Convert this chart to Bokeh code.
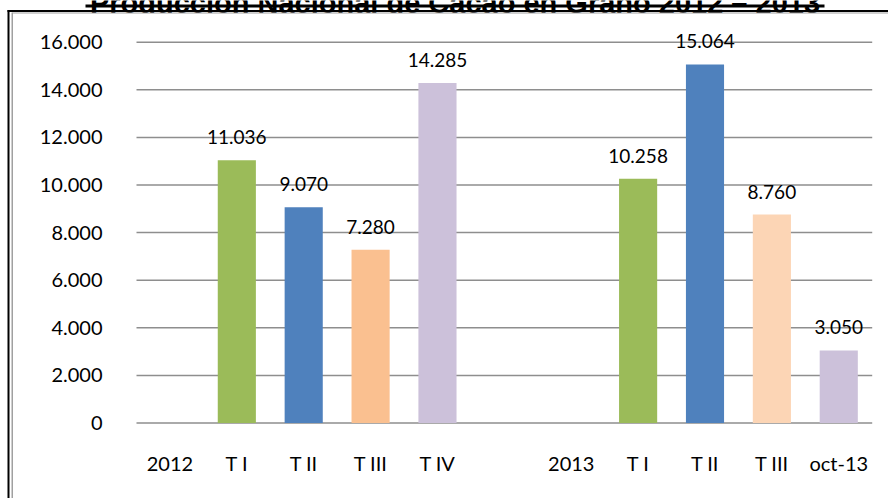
from bokeh.plotting import figure
from bokeh.models import (Range1d, ColumnDataSource, LabelSet, Label,
                          BoxAnnotation)
from bokeh.core.properties import value
from bokeh.embed import file_html
from bokeh.resources import INLINE

# ---- data ----
title_text = "Producción Nacional de Cacao en Grano 2012 – 2013"
categories = ["2012", "T I", "T II", "T III", "T IV", "",
              "2013", "T I", "T II", "T III", "oct-13"]
values = [None, 11036, 9070, 7280, 14285, None,
          None, 10258, 15064, 8760, 3050]
bar_colors = [None, "#9BBB59", "#4F81BD", "#FAC090", "#CCC1DA", None,
              None, "#9BBB59", "#4F81BD", "#FCD5B5", "#CCC1DA"]
y_ticks = [0, 2000, 4000, 6000, 8000, 10000, 12000, 14000, 16000]
y_tick_labels = ["0", "2.000", "4.000", "6.000", "8.000", "10.000",
                 "12.000", "14.000", "16.000"]

FONT = "Lato"
TITLE_FONT = "Liberation Sans"
GRID = "#8E8E8E"
W, H = 888, 498

# ---- layout geometry (pixels) ----
PLOT_L, PLOT_R = 136.0, 871.7          # plot area left/right
Y0_PX, YMAX_PX = 422.5, 41.7           # pixel rows of 0 and 16000
n = len(categories)
cat_w = (PLOT_R - PLOT_L) / n
k = (Y0_PX - YMAX_PX) / y_ticks[-1]     # px per unit
x_range = Range1d(-PLOT_L / cat_w, n + (W - PLOT_R) / cat_w)
y_range = Range1d(-(H - Y0_PX) / k, y_ticks[-1] + YMAX_PX / k)

xs, tops, cols, texts = [], [], [], []
for i, (v, c) in enumerate(zip(values, bar_colors)):
    if v is None:
        continue
    xs.append(i + 0.5)
    tops.append(v)
    cols.append(c)
    texts.append(f"{v:,}".replace(",", "."))
bars = ColumnDataSource(dict(x=xs, top=tops, color=cols, label=texts))

p = figure(width=W, height=H, output_backend="svg", toolbar_location=None,
           x_range=x_range, y_range=y_range,
           x_axis_type=None, y_axis_type=None,
           min_border=0, min_border_left=0, min_border_right=0,
           min_border_top=0, min_border_bottom=0)
p.outline_line_color = None
p.background_fill_color = "white"
p.border_fill_color = "white"

# horizontal grid lines (including the 0 baseline)
p.segment(x0=[0] * len(y_ticks), x1=[n] * len(y_ticks), y0=y_ticks,
          y1=y_ticks, line_color=GRID, line_width=1.5)

# bars
p.vbar(x="x", top="top", width=0.57, bottom=0, color="color",
       line_color=None, source=bars)

# data labels
p.add_layout(LabelSet(x="x", y="top", text="label", source=bars,
                      text_align="center", text_baseline="alphabetic",
                      y_offset=16, text_font=value(FONT),
                      text_font_size="19px", text_color="#000000"))

# y tick labels
ysrc = ColumnDataSource(dict(x=[0] * len(y_ticks), y=y_ticks,
                             t=y_tick_labels))
p.add_layout(LabelSet(x="x", y="y", text="t", source=ysrc, x_offset=-34,
                      text_align="right", text_baseline="middle",
                      text_font=value(FONT), text_font_size="20px",
                      text_color="#000000"))

# x category labels
xsrc = ColumnDataSource(dict(x=[i + 0.5 for i, c in enumerate(categories) if c],
                             y=[0] * sum(1 for c in categories if c),
                             t=[c for c in categories if c]))
p.add_layout(LabelSet(x="x", y="y", text="t", source=xsrc, y_offset=-47.5,
                      text_align="center", text_baseline="alphabetic",
                      text_font=value(FONT), text_font_size="20px",
                      text_color="#000000"))

# title (cut off at top like the reference)
p.add_layout(Label(x=454.5, y=H - 2.7, x_units="screen", y_units="screen",
                   text=title_text, text_align="center",
                   text_baseline="alphabetic", text_font=TITLE_FONT,
                   text_font_style="bold", text_font_size="29px",
                   text_color="#000000"))

def sbox(left, right, top, bottom, color):
    # top/bottom given as pixel rows from the top of the canvas
    return BoxAnnotation(left=left, right=right, top=H - top, bottom=H - bottom,
                         left_units="screen", right_units="screen",
                         top_units="screen", bottom_units="screen",
                         fill_color=color, fill_alpha=1.0, line_color=None,
                         level="overlay")

p.add_layout(sbox(85, 824, 4, 7, "#000000"))        # title underline
p.add_layout(sbox(7, W, 9.5, 11.5, "#000000"))      # frame top (black)
p.add_layout(sbox(12, W, 12, 13, "#A0A0A0"))        # frame top (gray)
p.add_layout(sbox(7, 9, 9.5, H, "#000000"))         # frame left (black)
p.add_layout(sbox(11, 12.5, 12, H, "#A0A0A0"))      # frame left (gray)

open("out.html", "w").write(file_html(p, INLINE))
